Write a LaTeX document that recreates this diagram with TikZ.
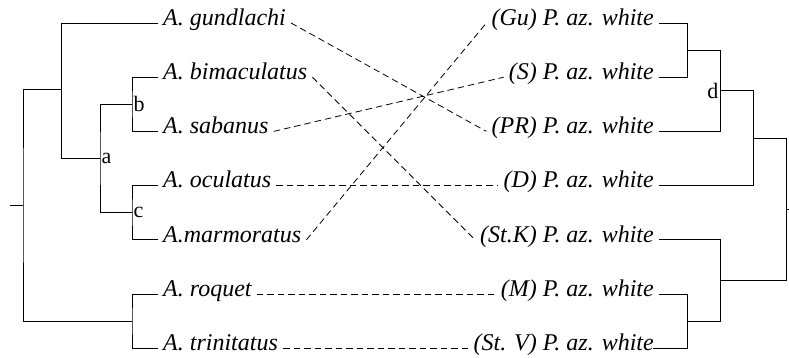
\documentclass[tikz,border=0pt]{standalone}
\usepackage{fontspec}
\setmainfont{Liberation Serif}
\begin{document}
\begin{tikzpicture}[x=1pt,y=-1pt,
  tree/.style={line width=0.9pt, black},
  conn/.style={line width=0.8pt, black, dash pattern=on 6.5pt off 4pt},
  sp/.style={font=\fontsize{24}{28}\selectfont\itshape, inner xsep=5pt, inner ysep=0pt,
             text height=0.7em, text depth=0.25em},
  lsp/.style={sp, anchor=west},
  rsp/.style={sp, anchor=east},
  lab/.style={font=\fontsize{22}{26}\selectfont, inner sep=1.5pt}
]
\useasboundingbox (0,0) rectangle (789,358);
% rows
\def\ra{23}\def\rb{77.2}\def\rc{131.4}\def\rd{185.6}\def\re{239.8}\def\rf{294}\def\rg{348.2}
% left species
\node[lsp] (gund) at (158,\ra) {A. gundlachi};
\node[lsp] (bima) at (158,\rb) {A. bimaculatus};
\node[lsp] (saba) at (158,\rc) {A. sabanus};
\node[lsp] (ocul) at (158,\rd) {A. oculatus};
\node[lsp] (marm) at (158,\re) {A.marmoratus};
\node[lsp] (roq)  at (158,\rf) {A. roquet};
\node[lsp] (trin) at (158,\rg) {A. trinitatus};
% right parasites
\node[rsp] (gu)  at (659,\ra) {(Gu) P. az. white};
\node[rsp] (s)   at (659,\rb) {(S) P. az. white};
\node[rsp] (pr)  at (659,\rc) {(PR) P. az. white};
\node[rsp] (d)   at (659,\rd) {(D) P. az. white};
\node[rsp] (stk) at (659,\re) {(St.K) P. az. white};
\node[rsp] (m)   at (659,\rf) {(M) P. az. white};
\node[rsp] (stv) at (659,\rg) {(St. V) P. az. white};
% left tree junctions
\coordinate (jb) at (132,104.1);
\coordinate (jc) at (132,212.7);
\coordinate (ja) at (100,158.4);
\coordinate (jg) at (61,89);
\coordinate (jr) at (132,321.1);
\coordinate (jroot) at (23,205);
\coordinate (lstub) at (10,205);
\draw[tree] (gund.west) -| (jg);
\draw[tree] (bima.west) -| (jb) |- (saba.west);
\draw[tree] (ocul.west) -| (jc) |- (marm.west);
\draw[tree] (jb) -| (ja) |- (jc);
\draw[tree] (jg) |- (ja);
\draw[tree] (roq.west) -| (jr) |- (trin.west);
\draw[tree] (jg) -| (jroot) |- (jr);
\draw[tree] (lstub) -- (jroot);
\node[lab, anchor=west] (la) at (ja) {a};
\node[lab, anchor=west] (lb) at (jb) {b};
\node[lab, anchor=west] (lc) at (jc) {c};
% right tree junctions
\coordinate (k1) at (687,50.1);
\coordinate (kd) at (720,90.5);
\coordinate (k2) at (753,138.1);
\coordinate (k3) at (687,321.1);
\coordinate (k4) at (720,280.5);
\coordinate (kroot) at (786,209.3);
\coordinate (rstub) at (789,209.3);
\draw[tree] (gu.east) -| (k1) |- (s.east);
\draw[tree] (k1) -| (kd) |- (pr.east);
\draw[tree] (kd) -| (k2) |- (d.east);
\draw[tree] (m.east) -| (k3);
\draw[tree, shorten <=-6pt] (stv.east) -| (k3);
\draw[tree] (k3) -| (k4) |- (stk.east);
\draw[tree] (k2) -| (kroot) |- (k4);
\draw[tree] (kroot) -- (rstub);
\node[lab, anchor=east] (ld) at (kd) {d};
% connectors
\draw[conn] (gund.east) -- (pr.west);
\draw[conn] (bima.east) -- (stk.west);
\draw[conn] (saba.east) -- (s.west);
\draw[conn] (ocul.east) -- (d.west);
\draw[conn] (marm.east) -- (gu.west);
\draw[conn] (roq.east) -- (m.west);
\draw[conn] (trin.east) -- (stv.west);
\end{tikzpicture}
\end{document}
